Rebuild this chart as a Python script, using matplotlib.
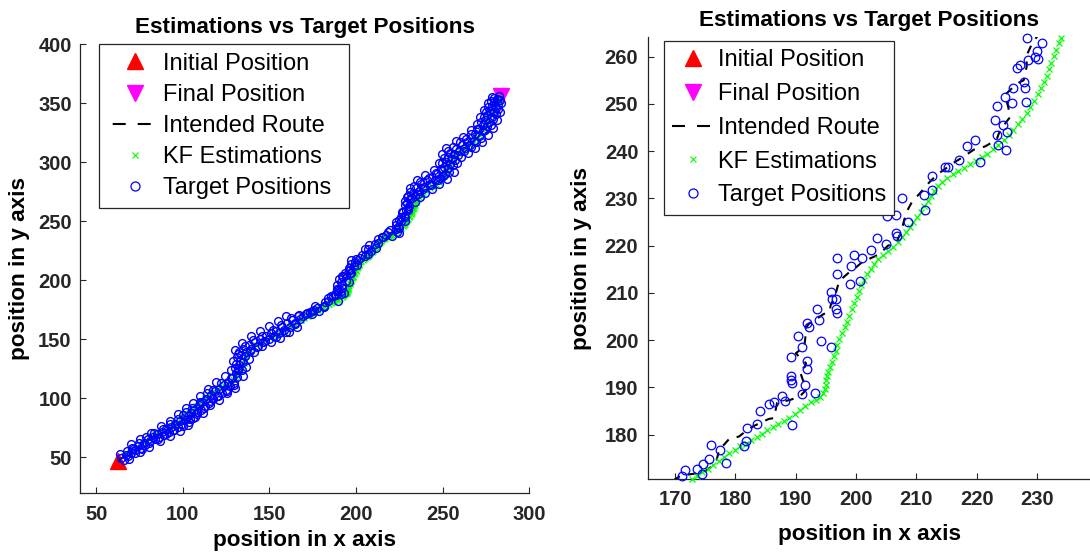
import matplotlib
matplotlib.use('Agg')
import matplotlib.pyplot as plt
from matplotlib.lines import Line2D
import numpy as np

plt.rcParams['font.family'] = ['Liberation Sans', 'DejaVu Sans']

# start / end of the track
start_pos = (62.7, 46.5)
end_pos = (283.5, 356.0)

# intended route, three stretches
route_lo = [(62.7, 46.5), (65.0, 49.5), (67.6, 53.0), (70.5, 55.5), (73.0, 58.5), (77.0, 63.0),
            (80.0, 65.5), (83.0, 67.5), (86.8, 70.0), (90.0, 72.5), (93.0, 74.0), (96.4, 76.5),
            (99.0, 79.5), (102.0, 82.0), (104.2, 84.5), (107.0, 88.5), (110.0, 93.0), (113.0, 97.0),
            (115.7, 101.0), (119.0, 104.5), (123.4, 109.5), (127.0, 112.5), (130.0, 116.0),
            (131.5, 121.0), (133.0, 127.0), (134.0, 132.0), (134.5, 137.0), (136.9, 141.0),
            (139.5, 143.5), (142.7, 146.5), (145.5, 149.0), (148.5, 151.5), (152.0, 154.5),
            (156.0, 157.5), (160.0, 161.0), (164.0, 165.0), (167.5, 168.5)]
route_mid = [(170.8, 171.2), (172.5, 171.6), (174.7, 172.0), (175.8, 173.0), (176.9, 174.7),
             (177.3, 176.8), (178.2, 178.0), (178.9, 179.0), (180.6, 179.6), (181.8, 180.8),
             (183.0, 181.8), (184.7, 182.8), (185.5, 183.3), (186.4, 183.5), (186.9, 186.7),
             (188.0, 187.0), (189.2, 187.4), (190.6, 188.0), (191.3, 188.9), (191.9, 189.8),
             (191.2, 191.5), (190.6, 193.7), (191.5, 194.3), (191.7, 195.1), (190.8, 196.2),
             (190.0, 197.2), (191.4, 198.6), (191.6, 200.5), (191.4, 202.1), (192.2, 203.5),
             (193.6, 204.6), (194.6, 205.5), (195.6, 206.0), (195.8, 207.4), (196.4, 209.0),
             (196.7, 210.2), (197.2, 212.5), (198.9, 214.4), (200.0, 215.4), (201.0, 216.5),
             (202.2, 217.2), (203.9, 218.2), (205.3, 220.0), (206.7, 220.7), (207.5, 223.0),
             (208.0, 225.5), (208.4, 227.2), (209.3, 229.3), (210.6, 231.1), (212.0, 233.2),
             (213.4, 235.0), (215.3, 236.7), (216.5, 237.8), (217.8, 238.8), (219.5, 240.3),
             (221.4, 241.0), (223.3, 242.4), (223.9, 244.5), (225.6, 247.3), (225.2, 249.5),
             (224.7, 251.9), (226.1, 253.6), (227.0, 254.5), (227.8, 255.0), (228.3, 257.9),
             (228.3, 260.3), (229.2, 262.8)]
route_hi = [(231.0, 266.0), (232.5, 272.0), (234.0, 277.0), (236.5, 280.5), (240.0, 282.5),
            (243.0, 284.5), (246.5, 287.0), (249.5, 289.5), (251.5, 293.0), (252.5, 297.5),
            (253.5, 302.0), (254.5, 306.0), (256.0, 309.5), (259.0, 312.0), (262.0, 314.5),
            (265.0, 317.5), (267.5, 321.0), (270.0, 325.0), (272.5, 329.0), (274.5, 333.5),
            (276.0, 338.0), (277.2, 343.0), (278.5, 347.5), (280.5, 351.0), (283.5, 356.0)]

# kalman filter estimates
kf_lo = [(66.0, 51.0), (67.8, 52.8), (69.6, 54.6), (71.4, 56.6), (73.2, 58.6), (75.0, 60.8),
         (76.8, 62.9), (78.6, 64.6), (80.4, 66.2), (82.2, 67.8), (84.0, 69.4), (85.8, 70.8),
         (87.6, 72.1), (89.4, 73.4), (91.2, 74.9), (93.0, 76.5), (94.8, 78.2), (96.6, 80.0),
         (98.4, 81.9), (100.2, 84.0), (102.0, 86.2), (103.8, 88.5), (105.6, 90.8), (107.4, 93.2),
         (109.2, 95.6), (111.0, 98.0), (112.8, 100.3), (114.6, 102.5), (116.4, 104.5),
         (118.2, 106.3), (120.0, 108.0), (121.8, 109.6), (123.6, 111.1), (125.4, 112.6),
         (127.2, 114.2), (129.0, 116.0), (130.6, 118.2), (132.0, 120.8), (133.2, 123.6),
         (134.2, 126.6), (135.0, 129.7), (135.7, 132.8), (136.4, 135.8), (137.3, 138.6),
         (138.6, 141.0), (140.3, 143.0), (142.2, 144.8), (144.2, 146.5), (146.2, 148.1),
         (148.2, 149.6), (150.2, 151.1), (152.2, 152.6), (154.2, 154.1), (156.2, 155.7),
         (158.2, 157.3), (160.2, 159.0), (162.2, 160.7), (164.2, 162.4), (166.2, 164.2),
         (168.2, 166.0), (170.0, 167.8), (171.6, 169.4), (172.3, 170.1)]
kf_mid = [(172.8, 170.6), (173.6, 171.2), (174.5, 172.0), (175.4, 172.7), (176.3, 173.5),
          (177.2, 174.4), (178.1, 175.2), (179.0, 176.0), (179.9, 176.8), (180.8, 177.5),
          (181.7, 178.1), (182.6, 178.8), (183.5, 179.5), (184.4, 180.1), (185.3, 180.9),
          (186.2, 181.6), (187.1, 182.3), (188.0, 182.9), (188.9, 183.6), (189.8, 184.4),
          (190.7, 185.2), (191.6, 186.0), (192.5, 186.8), (193.3, 187.4), (194.0, 188.0),
          (194.5, 188.8), (194.8, 189.7), (195.0, 190.6), (195.1, 191.5), (195.2, 192.4),
          (195.3, 193.3), (195.6, 194.3), (196.0, 195.4), (196.4, 196.6), (196.7, 197.8),
          (196.9, 199.0), (197.2, 200.3), (197.6, 201.5), (198.1, 202.7), (198.5, 203.9),
          (198.9, 205.2), (199.3, 206.5), (199.7, 207.8), (200.1, 209.1), (200.5, 210.4),
          (200.9, 211.6), (201.4, 212.8), (201.9, 214.0), (202.4, 215.1), (203.0, 216.1),
          (203.7, 217.1), (204.5, 218.0), (205.3, 218.9), (206.1, 219.8), (206.9, 220.8),
          (207.6, 221.8), (208.3, 222.8), (208.9, 223.9), (209.5, 225.0), (210.1, 226.1),
          (210.7, 227.2), (211.3, 228.3), (211.9, 229.4), (212.4, 230.5), (213.0, 231.6),
          (213.6, 232.6), (214.3, 233.5), (215.1, 234.3), (216.0, 235.1), (216.9, 235.8),
          (217.9, 236.5), (218.9, 237.2), (219.9, 237.9), (220.9, 238.7), (221.8, 239.5),
          (222.7, 240.4), (223.6, 241.3), (224.5, 242.3), (225.3, 243.4), (226.1, 244.5),
          (226.9, 245.7), (227.6, 246.9), (228.3, 248.1), (228.9, 249.4), (229.5, 250.7),
          (230.1, 252.0), (230.6, 253.3), (231.1, 254.6), (231.6, 255.9), (232.0, 257.3),
          (232.4, 258.7), (232.8, 260.1), (233.2, 261.5), (233.6, 263.0), (234.0, 264.0)]
kf_hi = [(234.4, 266.0), (234.9, 267.6), (235.5, 269.2), (236.2, 270.8), (237.0, 272.3),
         (237.9, 273.7), (238.9, 275.0), (240.0, 276.2), (241.2, 277.3), (242.5, 278.4),
         (243.8, 279.5), (245.1, 280.7), (246.4, 282.0), (247.6, 283.4), (248.7, 284.9),
         (249.7, 286.5), (250.6, 288.2), (251.4, 290.0), (252.1, 291.9), (252.7, 293.9),
         (253.3, 295.9), (253.9, 297.9), (254.5, 299.9), (255.1, 301.8), (255.8, 303.6),
         (256.6, 305.3), (257.6, 306.8), (258.8, 308.1), (260.1, 309.3), (261.5, 310.5),
         (262.9, 311.8), (264.3, 313.2), (265.6, 314.7), (266.8, 316.3), (268.0, 318.0),
         (269.1, 319.8), (270.2, 321.6), (271.2, 323.5), (272.2, 325.4), (273.1, 327.4),
         (274.0, 329.4), (274.8, 331.4), (275.6, 333.5), (276.3, 335.6), (277.0, 337.7),
         (277.7, 339.8), (278.4, 341.9), (279.1, 344.0), (279.8, 346.0), (280.5, 348.0),
         (281.2, 349.9), (281.9, 351.7), (282.6, 353.4), (283.2, 355.0)]

# measured target positions
target_lo = [(64.5, 49.8), (66.9, 52.3), (67.5, 54.9), (69.8, 53.6), (71.2, 57.4), (72.6, 55.8),
             (74.3, 59.9), (75.8, 58.1), (77.5, 62.4), (78.1, 60.3), (79.6, 65.8), (81.2, 63.4),
             (82.5, 67.1), (84.1, 65.2), (85.3, 69.8), (86.2, 66.9), (87.9, 71.6), (89.1, 68.8),
             (90.4, 73.9), (91.8, 71.2), (93.2, 75.6), (94.1, 72.9), (95.6, 77.8), (96.9, 75.3),
             (98.1, 80.5), (99.4, 77.9), (100.3, 85.6), (101.2, 81.4), (102.7, 84.9), (103.5, 80.2),
             (104.9, 87.3), (105.8, 83.6), (106.6, 90.1), (107.9, 86.8), (109.1, 94.2), (110.4, 90.3),
             (111.3, 96.8), (112.7, 93.5), (113.5, 99.1), (114.8, 95.9), (116.2, 102.7),
             (117.3, 99.4), (118.5, 105.8), (119.6, 102.1), (120.9, 107.9), (122.3, 104.6),
             (123.8, 111.2), (124.9, 107.3), (126.1, 113.6), (127.4, 110.4), (128.3, 116.9),
             (129.6, 113.2), (130.4, 121.5), (131.2, 117.8), (131.9, 125.4), (130.8, 128.9),
             (132.7, 131.2), (131.5, 134.6), (133.4, 136.3), (132.6, 139.4), (134.8, 141.7),
             (136.3, 139.2), (138.1, 144.9), (139.6, 142.1), (141.4, 147.8), (143.2, 144.6),
             (144.7, 150.3), (146.1, 147.4), (147.8, 152.6), (149.5, 150.1), (150.9, 155.2),
             (152.6, 152.8), (153.8, 157.4), (155.4, 154.9), (157.1, 160.3), (158.6, 157.6),
             (160.2, 163.5), (161.7, 160.8), (163.1, 166.7), (164.6, 164.2), (166.3, 169.4),
             (167.8, 166.9), (169.2, 170.1)]
target_lo2 = [(65.8, 47.9), (68.4, 51.2), (70.9, 57.8), (72.1, 53.9), (74.8, 62.1), (76.4, 57.2),
              (78.9, 66.8), (80.7, 61.9), (83.4, 70.6), (85.9, 65.1), (88.6, 74.3), (90.2, 69.4),
              (92.5, 77.9), (95.1, 73.1), (97.3, 82.4), (99.8, 76.2), (101.6, 88.3), (103.9, 82.1),
              (105.2, 91.9), (108.3, 88.4), (109.8, 97.1), (112.1, 91.6), (114.2, 104.3),
              (115.9, 97.7), (117.6, 107.4), (120.4, 101.8), (122.1, 112.6), (125.3, 106.1),
              (127.8, 117.5), (129.4, 110.9), (131.6, 123.8), (133.9, 124.2), (129.9, 125.6),
              (134.7, 130.9), (132.2, 128.3), (135.9, 136.1), (131.9, 137.8), (135.7, 144.2),
              (138.8, 140.3), (140.2, 149.1), (142.6, 143.2), (145.6, 152.8), (147.3, 148.6),
              (151.8, 157.9), (153.9, 152.3), (156.8, 162.1), (159.4, 156.3), (162.2, 168.3),
              (164.9, 162.6), (167.1, 170.2)]
target_lo3 = [(63.9, 53.1), (68.9, 48.6), (70.3, 60.9), (75.2, 54.6), (75.1, 65.3), (80.3, 58.9),
              (81.4, 70.8), (86.5, 63.7), (87.1, 76.2), (92.6, 68.2), (92.8, 80.4), (98.3, 72.4),
              (97.2, 86.9), (103.1, 77.6), (101.9, 91.7), (106.9, 84.1), (105.8, 96.4), (111.5, 87.8),
              (110.1, 101.8), (115.8, 94.2), (114.3, 108.1), (120.9, 98.6), (119.2, 113.4),
              (125.6, 104.3), (124.3, 118.6), (130.1, 108.5), (127.6, 124.3), (134.8, 118.7),
              (129.1, 131.9), (136.2, 126.1), (130.3, 140.5), (137.9, 133.4), (134.1, 147.2),
              (140.9, 139.1), (139.3, 152.4), (145.6, 143.9), (144.6, 156.8), (150.8, 147.6),
              (149.7, 161.2), (155.9, 151.3), (154.8, 165.1), (161.2, 155.9), (159.6, 169.4),
              (165.8, 160.4)]
target_mid = [(171.1, 171.2), (171.7, 172.6), (173.6, 172.8), (174.4, 171.6), (174.7, 173.7),
              (175.6, 174.9), (176.0, 177.9), (177.5, 176.8), (178.4, 174.0), (181.4, 177.5),
              (181.7, 178.6), (182.0, 181.4), (183.6, 182.2), (184.0, 184.9), (185.6, 186.5),
              (186.4, 186.8), (187.8, 188.1), (188.2, 187.2), (189.3, 182.1), (189.2, 191.6),
              (189.3, 190.9), (189.2, 192.3), (189.2, 196.4), (190.4, 200.8), (191.0, 198.5),
              (191.1, 188.6), (191.5, 190.5), (191.8, 193.8), (191.9, 195.6), (191.9, 203.6),
              (192.2, 202.8), (193.2, 188.8), (193.6, 206.5), (193.9, 204.2), (194.2, 199.8),
              (195.8, 198.6), (195.8, 210.2), (196.0, 208.8), (196.7, 208.6), (196.9, 205.8),
              (196.7, 206.5), (196.8, 214.0), (196.8, 217.4), (199.0, 211.9), (199.2, 215.6),
              (199.7, 218.0), (200.6, 212.6), (201.0, 217.4), (202.5, 219.1), (203.4, 221.6),
              (205.0, 220.4), (206.8, 222.1), (205.2, 226.2), (206.6, 226.5), (208.6, 225.1),
              (206.6, 222.6), (207.7, 230.0), (211.5, 227.6), (211.2, 230.7), (212.6, 231.8),
              (212.6, 234.8), (214.8, 236.7), (215.3, 236.6), (217.0, 238.1), (218.4, 241.1),
              (219.7, 242.4), (220.6, 237.8), (223.1, 246.5), (223.3, 249.6), (223.3, 243.4),
              (223.6, 241.3), (224.4, 245.5), (224.9, 240.2), (225.0, 244.1), (224.7, 251.4),
              (226.1, 253.3), (225.8, 250.1), (226.7, 257.5), (228.0, 253.3), (228.2, 250.5),
              (227.8, 254.7), (228.3, 264.0), (229.7, 260.0), (230.0, 261.1), (230.2, 259.6),
              (230.8, 263.0), (227.2, 258.2), (228.6, 259.4)]
target_hi = [(229.6, 265.9), (231.4, 268.7), (230.2, 271.5), (232.8, 274.2), (233.9, 271.1),
             (234.6, 277.8), (236.2, 275.4), (237.5, 281.6), (239.1, 279.2), (240.8, 284.7),
             (242.4, 281.9), (243.7, 287.3), (245.3, 284.6), (246.8, 289.9), (248.2, 286.8),
             (249.6, 292.4), (251.3, 289.7), (250.7, 296.1), (252.9, 294.8), (251.8, 300.3),
             (254.2, 298.6), (252.9, 304.2), (255.4, 302.9), (254.1, 308.1), (256.8, 306.7),
             (257.9, 311.4), (259.5, 309.3), (261.2, 314.6), (262.8, 311.8), (264.1, 317.2),
             (265.7, 314.9), (266.4, 320.6), (268.3, 318.4), (268.9, 324.1), (270.8, 322.3),
             (271.2, 327.8), (273.4, 326.2), (273.1, 331.5), (275.6, 330.4), (274.6, 335.6),
             (276.9, 334.1), (275.8, 339.7), (278.2, 338.3), (277.1, 343.5), (279.4, 342.2),
             (278.3, 347.4), (280.6, 346.1), (279.6, 350.8), (281.9, 349.5), (281.2, 353.9),
             (283.1, 352.6), (282.4, 356.2)]
target_hi2 = [(228.1, 266.9), (230.9, 274.8), (232.1, 269.9), (233.4, 279.6), (235.8, 272.9),
              (236.9, 283.4), (238.6, 277.1), (241.9, 286.8), (243.1, 280.6), (245.9, 290.9),
              (247.4, 285.1), (248.9, 294.7), (250.1, 288.3), (249.8, 299.4), (253.6, 292.1),
              (250.9, 303.6), (255.7, 297.4), (253.1, 309.2), (256.9, 302.1), (256.2, 313.1),
              (258.8, 306.4), (260.1, 316.8), (262.2, 309.7), (263.4, 319.9), (266.1, 313.2),
              (266.1, 323.6), (269.4, 317.1), (269.9, 328.1), (272.3, 320.9), (272.4, 333.7),
              (274.7, 327.1), (273.6, 338.4), (277.8, 331.3), (275.2, 342.9), (279.1, 336.6),
              (276.4, 347.2), (280.7, 340.9), (278.1, 352.1), (282.1, 345.3), (279.9, 354.8),
              (283.8, 350.1)]
target_hi3 = [(233.9, 266.1), (229.1, 270.6), (236.9, 270.2), (231.4, 278.6), (239.8, 273.6),
              (235.1, 284.9), (243.6, 277.1), (239.7, 288.9), (247.9, 281.6), (244.8, 293.3),
              (252.6, 285.4), (248.1, 299.1), (256.4, 291.7), (249.6, 306.8), (258.1, 299.3),
              (252.1, 312.4), (260.8, 304.2), (257.4, 317.6), (264.6, 307.9), (261.9, 321.8),
              (268.9, 312.4), (266.1, 327.3), (272.8, 316.9), (269.6, 332.4), (276.1, 322.8),
              (271.8, 338.1), (278.9, 328.9), (273.9, 344.2), (281.6, 336.1), (276.2, 350.3),
              (283.1, 342.4), (278.5, 355.6)]

route = np.array(route_lo + route_mid + route_hi)
kf = np.array(kf_lo + kf_mid + kf_hi)
target = np.array(target_lo + target_lo2 + target_lo3 + target_mid
                  + target_hi + target_hi2 + target_hi3)

DARK = '#262626'
GREEN = (0, 1, 0)
MAGENTA = (1, 0, 1)
labels = ['Initial Position', 'Final Position', 'Intended Route', 'KF Estimations', 'Target Positions']


def in_view(pts, xl, yl):
    m = (pts[:, 0] >= xl[0]) & (pts[:, 0] <= xl[1]) & (pts[:, 1] >= yl[0]) & (pts[:, 1] <= yl[1])
    return pts[m]


def draw_panel(ax, xl, yl, ms_o, ms_x, mew_o, lw_route, dash):
    ax.plot(*start_pos, '^', color='r', ms=12, zorder=1)
    ax.plot(*end_pos, 'v', color=MAGENTA, ms=12, zorder=1)
    ax.plot(route[:, 0], route[:, 1], color='k', lw=lw_route, ls=(0, dash), zorder=2)
    k = in_view(kf, xl, yl)
    ax.plot(k[:, 0], k[:, 1], 'x', color=GREEN, ms=ms_x, mew=0.9, ls='none', zorder=3, clip_on=False)
    t = in_view(target, xl, yl)
    ax.plot(t[:, 0], t[:, 1], 'o', mfc='none', mec='b', ms=ms_o, mew=mew_o, ls='none', zorder=4, clip_on=False)
    ax.set_xlim(xl)
    ax.set_ylim(yl)
    for s in ['top', 'right']:
        ax.spines[s].set_visible(False)
    for s in ['left', 'bottom']:
        ax.spines[s].set_color(DARK)
        ax.spines[s].set_linewidth(0.9)
    ax.tick_params(direction='in', length=4, width=0.8, color=DARK, labelcolor=DARK, labelsize=14.5)
    for lab in ax.get_xticklabels() + ax.get_yticklabels():
        lab.set_fontweight('bold')
    ax.set_title('Estimations vs Target Positions', fontsize=16.2, fontweight='bold', pad=8)


def add_legend(ax, left, top, width, spacing, hlen, tpad, route_dash):
    handles = [
        Line2D([], [], marker='^', color='r', ms=12, ls='none'),
        Line2D([], [], marker='v', color=MAGENTA, ms=12, ls='none'),
        Line2D([], [], color='k', lw=1.5, ls=route_dash),
        Line2D([], [], marker='x', color=GREEN, ms=5, mew=0.8, ls='none'),
        Line2D([], [], marker='o', mfc='none', mec='b', ms=6.5, mew=0.9, ls='none'),
    ]
    # box given in pixels from the top-left corner of the figure
    box = (left / 1090, 1 - top / 556 - 0.01, width / 1090, 0.01)
    leg = ax.legend(handles, labels, loc='upper left', bbox_to_anchor=box, mode='expand',
                    bbox_transform=fig.transFigure, fontsize=17, frameon=True, fancybox=False,
                    framealpha=1, edgecolor=DARK, borderpad=0.35, handlelength=hlen,
                    handletextpad=tpad, labelspacing=spacing, borderaxespad=0)
    leg.get_frame().set_linewidth(0.9)
    leg.set_zorder(10)


fig = plt.figure(figsize=(10.9, 5.56), dpi=100)

ax1 = fig.add_axes([0.0734, 0.1139, 0.4122, 0.8065])
draw_panel(ax1, (40.6, 300), (20, 400), 5.6, 5.0, 1.0, 1.0, (4, 3))
ax1.set_xticks(np.arange(50, 301, 50))
ax1.set_yticks(np.arange(50, 401, 50))
ax1.tick_params(axis='x', pad=9)
ax1.tick_params(axis='y', pad=6)
ax1.set_xlabel('position in x axis', fontsize=16.2, fontweight='bold', labelpad=4)
ax1.set_ylabel('position in y axis', fontsize=16.2, fontweight='bold', labelpad=6)

ax2 = fig.add_axes([0.5945, 0.1385, 0.4055, 0.7944])
draw_panel(ax2, (165.5, 238.8), (170.6, 264.1), 6.2, 4.0, 0.9, 1.5, (4, 4))
ax2.set_xticks(np.arange(170, 231, 10))
ax2.set_yticks(np.arange(180, 261, 10))
ax2.tick_params(axis='x', pad=8)
ax2.tick_params(axis='y', pad=7)
ax2.set_xlabel('position in x axis', fontsize=16.2, fontweight='bold', labelpad=11)
ax2.set_ylabel('position in y axis', fontsize=16.2, fontweight='bold', labelpad=9)

add_legend(ax1, 99, 44.3, 249.5, 0.39, 2.35, 0.0, (23.9, (6.24, 5.76, 6.24, 8.4)))
add_legend(ax2, 663.8, 41, 230.5, 0.50, 1.75, 0.19, (0, (6.24, 5.76, 6.24, 2.0)))

fig.savefig('out.png', dpi=100)
